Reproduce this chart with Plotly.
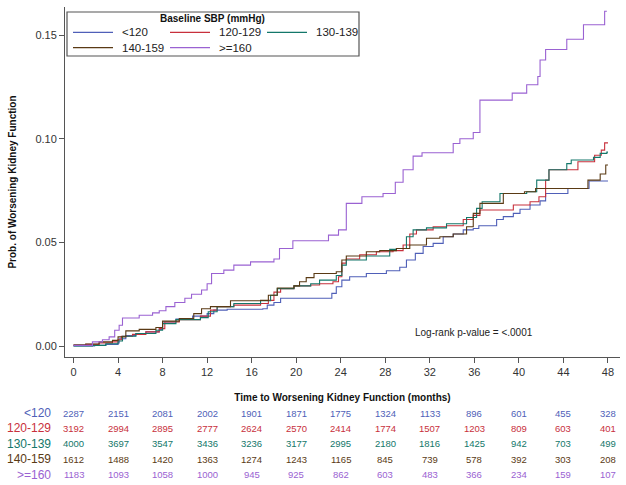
import plotly.graph_objects as go

# ---------------- data ----------------
series_names = ["<120", "120-129", "130-139", "140-159", ">=160"]
series_colors = ["#4F5FB8", "#C8303C", "#13776A", "#5A3A14", "#9A62D2"]

t_lt120 = [0, 1.9, 2.9, 4.0, 4.1, 4.7, 5.6, 6.5, 7.7, 8.0, 9.2, 10.7, 12.0, 12.6, 13.8, 17.0, 17.4,
           18.0, 18.6, 23.2, 23.6, 24.1, 24.8, 26.3, 28.1, 29.3, 29.9, 30.7, 31.4, 32.3, 33.2, 34.1,
           35.0, 35.9, 36.4, 38.0, 38.6, 39.5, 40.1, 41.0, 41.9, 42.4, 44.4, 46.3, 48.0]
p_lt120 = [0, 0.0003, 0.0008, 0.0015, 0.0035, 0.005, 0.006, 0.0068, 0.008, 0.0116, 0.013, 0.0144,
           0.0156, 0.0173, 0.0177, 0.018, 0.0197, 0.021, 0.023, 0.0254, 0.0286, 0.0318, 0.0334, 0.035,
           0.0363, 0.038, 0.0415, 0.0447, 0.048, 0.0495, 0.0527, 0.054, 0.056, 0.0567, 0.058, 0.061,
           0.0624, 0.064, 0.066, 0.068, 0.070, 0.0736, 0.076, 0.0796, 0.0796]

t_120 = [0, 1.1, 2.3, 3.5, 4.0, 4.3, 5.3, 6.5, 7.7, 8.2, 9.5, 11.4, 12.3, 12.9, 14.4, 16.8, 17.5,
         18.0, 18.6, 19.8, 21.3, 22.1, 23.3, 23.8, 24.1, 24.5, 25.7, 27.2, 28.7, 29.6, 30.2, 30.8,
         32.3, 33.5, 35.0, 35.9, 36.5, 39.5, 41.0, 41.8, 42.4, 42.7, 45.3, 46.8, 47.4, 47.7, 48.0]
p_120 = [0.0003, 0.0008, 0.0015, 0.002, 0.003, 0.0047, 0.0056, 0.0068, 0.0084, 0.0116, 0.0127,
         0.0144, 0.0173, 0.019, 0.0197, 0.0205, 0.022, 0.026, 0.0277, 0.029, 0.0294, 0.030, 0.031,
         0.0334, 0.040, 0.042, 0.044, 0.0455, 0.046, 0.0487, 0.054, 0.056, 0.0575, 0.058, 0.061,
         0.063, 0.0656, 0.068, 0.0696, 0.072, 0.080, 0.085, 0.0889, 0.092, 0.0945, 0.098, 0.098]

t_130 = [0, 1.7, 2.9, 4.0, 4.4, 5.6, 7.4, 8.0, 9.2, 11.4, 12.1, 12.9, 14.4, 16.8, 17.7, 18.3, 19.8,
         21.3, 22.1, 23.6, 24.1, 24.5, 26.3, 28.4, 29.0, 29.9, 30.5, 31.7, 33.5, 35.3, 36.2, 36.7,
         38.3, 40.7, 41.6, 42.7, 44.3, 44.7, 46.7, 47.3, 47.9, 48.0]
p_130 = [0, 0.0003, 0.0011, 0.0024, 0.0047, 0.006, 0.0076, 0.0108, 0.0127, 0.0137, 0.0165, 0.019,
         0.0205, 0.0218, 0.0245, 0.0277, 0.029, 0.030, 0.0318, 0.034, 0.039, 0.0415, 0.0434, 0.0466,
         0.047, 0.0527, 0.056, 0.057, 0.059, 0.062, 0.0664, 0.0696, 0.0736, 0.0744, 0.080, 0.085,
         0.088, 0.0897, 0.091, 0.0929, 0.0935, 0.0935]

t_140 = [0, 1.1, 2.3, 3.5, 4.0, 4.7, 5.9, 7.4, 8.0, 9.5, 10.8, 11.5, 12.3, 14.1, 16.8, 17.5, 18.3,
         19.8, 20.3, 20.9, 21.6, 23.6, 24.1, 24.5, 26.3, 27.5, 29.0, 30.2, 31.7, 32.9, 34.1, 35.3,
         35.9, 36.5, 38.6, 40.5, 41.5, 46.2, 47.3, 47.8, 48.0]
p_140 = [0.0006, 0.001, 0.002, 0.0027, 0.0044, 0.0073, 0.008, 0.0089, 0.012, 0.0132, 0.0156, 0.018,
         0.019, 0.0218, 0.022, 0.0245, 0.028, 0.029, 0.031, 0.033, 0.035, 0.0358, 0.0415, 0.0434,
         0.0455, 0.046, 0.047, 0.0487, 0.052, 0.0527, 0.054, 0.0575, 0.064, 0.0688, 0.0736, 0.0744,
         0.076, 0.080, 0.083, 0.0873, 0.0873]

t_160 = [0, 1.7, 2.6, 3.2, 3.7, 4.1, 4.4, 5.9, 7.1, 7.7, 8.3, 9.1, 10.0, 10.6, 11.5, 12.0, 12.4,
         13.5, 14.4, 15.9, 18.0, 18.5, 19.7, 22.9, 23.8, 24.5, 25.9, 27.8, 28.9, 29.6, 30.5, 31.3,
         34.1, 34.7, 35.9, 36.5, 39.4, 40.7, 41.7, 41.9, 42.4, 44.3, 45.8, 47.7, 47.9]
p_160 = [0.0003, 0.002, 0.003, 0.0044, 0.0076, 0.010, 0.0135, 0.0148, 0.016, 0.017, 0.019, 0.021,
         0.023, 0.025, 0.027, 0.030, 0.035, 0.0366, 0.039, 0.0406, 0.042, 0.047, 0.0508, 0.0535,
         0.056, 0.0688, 0.072, 0.0736, 0.079, 0.085, 0.0916, 0.0932, 0.0977, 0.100, 0.103, 0.1186,
         0.122, 0.126, 0.130, 0.138, 0.143, 0.148, 0.155, 0.1615, 0.1615]

series_t = [t_lt120, t_120, t_130, t_140, t_160]
series_p = [p_lt120, p_120, p_130, p_140, p_160]

risk_times = [0, 4, 8, 12, 16, 20, 24, 28, 32, 36, 40, 44, 48]
risk_lt120 = [2287, 2151, 2081, 2002, 1901, 1871, 1775, 1324, 1133, 896, 601, 455, 328]
risk_120 = [3192, 2994, 2895, 2777, 2624, 2570, 2414, 1774, 1507, 1203, 809, 603, 401]
risk_130 = [4000, 3697, 3547, 3436, 3236, 3177, 2995, 2180, 1816, 1425, 942, 703, 499]
risk_140 = [1612, 1488, 1420, 1363, 1274, 1243, 1165, 845, 739, 578, 392, 303, 208]
risk_160 = [1183, 1093, 1058, 1000, 945, 925, 862, 603, 483, 366, 234, 159, 107]
risk_rows = [risk_lt120, risk_120, risk_130, risk_140, risk_160]

x_ticks = [0, 4, 8, 12, 16, 20, 24, 28, 32, 36, 40, 44, 48]
y_ticks = [0.00, 0.05, 0.10, 0.15]

# ---------------- layout geometry ----------------
W, H = 626, 485
L, R, T, B = 65, 6, 7, 128
PW = W - L - R
PH = H - T - B
FONT = "Arial, Liberation Sans, sans-serif"


def px_x(px):
    return (px - L) / PW


def px_y(py):
    return (H - B - py) / PH


fig = go.Figure()
for i, (name, col) in enumerate(zip(series_names, series_colors)):
    fig.add_trace(go.Scatter(
        x=series_t[i], y=series_p[i], mode="lines", name=name,
        line=dict(color=col, width=1.1, shape="hv"), showlegend=False,
    ))

annotations = []
shapes = []

# at-risk table
row_y0 = 413
row_dy = 15.4
for i, (name, col) in enumerate(zip(series_names, series_colors)):
    ry = px_y(row_y0 + i * row_dy)
    annotations.append(dict(
        x=px_x(53), y=ry, xref="paper", yref="paper", text=name, showarrow=False,
        xanchor="right", yanchor="middle", font=dict(family=FONT, size=12, color=col)))
    for t, n in zip(risk_times, risk_rows[i]):
        annotations.append(dict(
            x=t, y=ry, xref="x", yref="paper", text=str(n), showarrow=False,
            xanchor="center", yanchor="middle", font=dict(family=FONT, size=9.5, color=col)))

annotations.append(dict(
    x=px_x(474), y=px_y(332), xref="paper", yref="paper", text="Log-rank p-value = <.0001",
    showarrow=False, xanchor="center", yanchor="middle",
    font=dict(family=FONT, size=10, color="#222222")))

# legend (boxed, 3 + 2 entries)
shapes.append(dict(type="rect", xref="paper", yref="paper",
                   x0=px_x(67), x1=px_x(359), y0=px_y(56), y1=px_y(12),
                   line=dict(color="#555555", width=1.2), fillcolor="white", layer="above"))
annotations.append(dict(
    x=px_x(212), y=px_y(19), xref="paper", yref="paper", text="<b>Baseline SBP (mmHg)</b>",
    showarrow=False, xanchor="center", yanchor="middle",
    font=dict(family=FONT, size=10, color="#111111")))
leg_pos = [(73, 32.3), (170, 32.3), (267, 32.3), (73, 47.7), (170, 47.7)]
for (lx, ly), name, col in zip(leg_pos, series_names, series_colors):
    shapes.append(dict(type="line", xref="paper", yref="paper",
                       x0=px_x(lx), x1=px_x(lx + 40), y0=px_y(ly), y1=px_y(ly),
                       line=dict(color=col, width=1.3), layer="above"))
    annotations.append(dict(
        x=px_x(lx + 47), y=px_y(ly), xref="paper", yref="paper", text=name, showarrow=False,
        xanchor="left", yanchor="middle", font=dict(family=FONT, size=11.5, color="#222222")))

fig.update_layout(
    width=W, height=H,
    margin=dict(l=L, r=R, t=T, b=B, pad=0),
    paper_bgcolor="white", plot_bgcolor="white",
    font=dict(family=FONT, size=11, color="#333333"),
    showlegend=False,
    annotations=annotations,
    shapes=shapes,
    xaxis=dict(
        range=[-(73.5 - L) / 11.135, (PW - (73.5 - L)) / 11.135],
        tickvals=x_ticks, ticks="outside", ticklen=5, tickcolor="#555555",
        showline=True, linecolor="#555555", linewidth=1, showgrid=False, zeroline=False,
        tickfont=dict(family=FONT, size=11, color="#333333"),
        title=dict(text="<b>Time to Worsening Kidney Function (months)</b>", standoff=16,
                   font=dict(family=FONT, size=10, color="#111111")),
    ),
    yaxis=dict(
        range=[-(357 - 346) / 2073.0, (346 - 7) / 2073.0],
        tickvals=y_ticks, tickformat=".2f", ticks="outside", ticklen=5, tickcolor="#555555",
        showline=True, linecolor="#555555", linewidth=1, showgrid=False, zeroline=False,
        tickfont=dict(family=FONT, size=11, color="#333333"),
        title=dict(text="<b>Prob. of Worsening Kidney Function</b>", standoff=16,
                   font=dict(family=FONT, size=10, color="#111111")),
    ),
)

fig.write_html("out.html", config={"displayModeBar": False},
               post_script="document.body.style.margin='0px';")
